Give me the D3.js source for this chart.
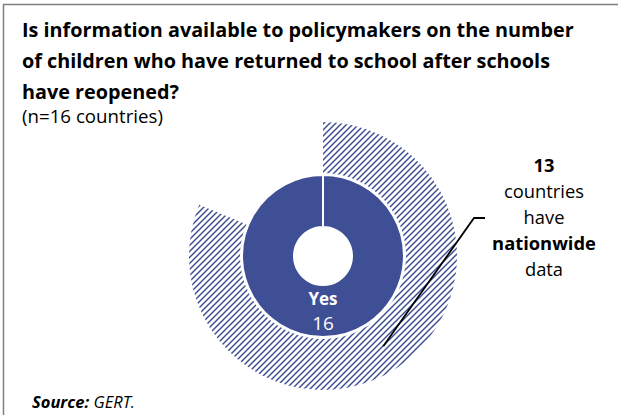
<!DOCTYPE html>
<meta charset="utf-8">
<title>Children returned to school</title>
<script src="https://d3js.org/d3.v7.min.js"></script>
<style>
  body { margin: 0; background: #fff; }
  svg text { font-family: "Open Sans", Lato, sans-serif; }
</style>
<body>
<div id="viz"></div>
<script>
  // data
  const titleLines = [
    "Is information available to policymakers on the number",
    "of children who have returned to school after schools",
    "have reopened?"
  ];
  const subtitle = "(n=16 countries)";
  const categories = ["Yes"];
  const answered = [16];            // inner ring
  const coverage = ["Nationwide", "Other"];
  const coverageValues = [13, 3];   // outer hatched ring
  const calloutLines = [
    [{t: "13", b: true}],
    [{t: "countries", b: false}],
    [{t: "have", b: false}],
    [{t: "nationwide", b: true}],
    [{t: "data", b: false}]
  ];

  const width = 618, height = 415;
  const blue = "#3f4f96";
  const cx = 323, cy = 256;

  // scale a text's font size so that it spans the given width
  function fitWidth(sel, target) {
    const w = sel.node().getComputedTextLength();
    const fs = parseFloat(sel.attr("font-size"));
    const size = fs * target / w;
    sel.attr("font-size", size);
    return size;
  }

  const svg = d3.select("#viz")
    .append("svg")
    .attr("width", width)
    .attr("height", height)
    .attr("viewBox", [0, 0, width, height]);

  svg.append("rect").attr("width", width).attr("height", height).attr("fill", "#fff");

  // hatch pattern (upward diagonal)
  const defs = svg.append("defs");
  defs.append("pattern")
    .attr("id", "hatch")
    .attr("patternUnits", "userSpaceOnUse")
    .attr("width", 6)
    .attr("height", 6)
    .append("path")
    .attr("d", "M-1,7 L7,-1 M-4,4 L4,-4 M2,10 L10,2")
    .attr("stroke", blue)
    .attr("stroke-width", 1.5);

  // frame (left and top edge only visible)
  svg.append("path")
    .attr("d", `M3.5,${height} V4.5 H${width}`)
    .attr("fill", "none")
    .attr("stroke", "#7f7f7f")
    .attr("stroke-width", 1.5);

  // title
  const title = svg.append("g")
    .selectAll("text")
    .data(titleLines)
    .join("text")
    .attr("x", 22)
    .attr("y", (d, i) => 37 + i * 31)
    .attr("font-size", 18)
    .attr("font-weight", "bold")
    .attr("fill", "#000")
    .text(d => d);
  const ts = fitWidth(d3.select(title.nodes()[0]), 552);
  title.attr("font-size", ts);

  const sub = svg.append("text")
    .attr("x", 22)
    .attr("y", 123)
    .attr("font-size", 15)
    .attr("fill", "#000")
    .text(subtitle);
  fitWidth(sub, 141);

  const g = svg.append("g").attr("transform", `translate(${cx},${cy})`);

  // outer hatched ring
  const outerPie = d3.pie().sort(null).value(d => d)(coverageValues);
  const outerArc = d3.arc().innerRadius(83).outerRadius(134);
  g.selectAll("path.outer")
    .data(outerPie)
    .join("path")
    .attr("class", "outer")
    .attr("d", outerArc)
    .attr("fill", (d, i) => i === 0 ? "url(#hatch)" : "none")
    .attr("stroke", "none");

  // inner solid ring (single 100% slice with white border)
  const innerPie = d3.pie().sort(null).value(d => d)(answered)
    .map(d => Object.assign({}, d, {endAngle: d.endAngle - 1e-4}));
  const innerArc = d3.arc().innerRadius(29).outerRadius(81);
  g.selectAll("path.inner")
    .data(innerPie)
    .join("path")
    .attr("class", "inner")
    .attr("d", innerArc)
    .attr("fill", blue)
    .attr("stroke", "#fff")
    .attr("stroke-width", 2);

  // inner label
  const yes = g.append("text")
    .attr("x", 0).attr("y", 49)
    .attr("text-anchor", "middle")
    .attr("font-size", 16)
    .attr("font-weight", "bold")
    .attr("fill", "#fff")
    .text(categories[0]);
  const ls = fitWidth(yes, 29);
  g.append("text")
    .attr("x", 0).attr("y", 74)
    .attr("text-anchor", "middle")
    .attr("font-size", ls * 1.12)
    .attr("fill", "#fff")
    .text(answered[0]);

  // leader line from the hatched slice centroid
  const [lx, ly] = outerArc.centroid(outerPie[0]);
  svg.append("path")
    .attr("d", `M${cx + lx},${cy + ly} L474,218 H485`)
    .attr("fill", "none")
    .attr("stroke", "#000")
    .attr("stroke-width", 1.8);

  // callout text
  const callout = svg.append("text")
    .attr("text-anchor", "middle")
    .attr("font-size", 16)
    .attr("fill", "#000");
  const parts = [];
  calloutLines.forEach((line, i) => {
    line.forEach((part, j) => {
      const t = callout.append("tspan")
        .attr("font-weight", part.b ? "bold" : "normal")
        .text(part.t);
      if (j === 0) t.attr("x", 544).attr("y", 172 + i * 26);
      parts.push(t);
    });
  });
  const cw = parts[1].node().getComputedTextLength();
  callout.attr("font-size", 16 * 80 / cw);

  // source
  const src = svg.append("text")
    .attr("x", 32)
    .attr("y", 408)
    .attr("font-size", 16.5)
    .attr("font-style", "italic")
    .attr("fill", "#000");
  src.append("tspan").attr("font-weight", "bold").text("Source:");
  src.append("tspan").text(" GERT.");
</script>
